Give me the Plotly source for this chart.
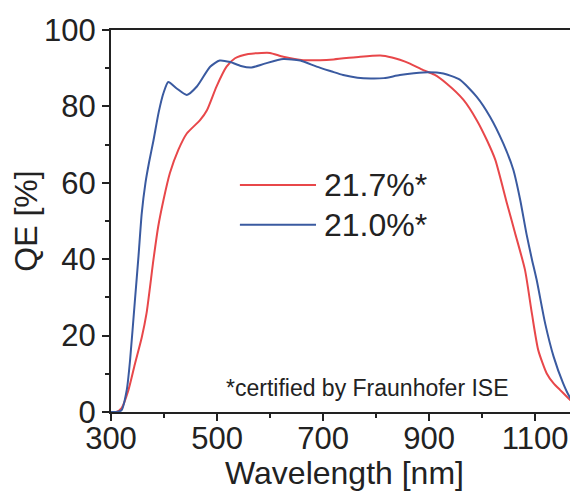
import plotly.graph_objects as go

# ---- data ----
wl_red = [300, 310, 320, 333, 345, 358, 367, 380, 389, 399, 411, 427, 443, 468, 481, 499,
          518, 534, 559, 584, 600, 625, 663, 720, 770, 808, 830, 845, 864, 889, 910, 933, 965, 990,
          1009, 1025, 1047, 1062, 1081, 1094, 1106, 1122, 1135, 1147, 1160, 1172, 1180]
qe_red = [0, 0, 1, 5.8, 12.5, 19.5, 25.8, 39.8, 48.5, 55.5, 62.5, 68.6, 72.9, 76.4, 79, 85.2,
          90.4, 92.6, 93.7, 94, 94, 93, 92.1, 92.3, 93, 93.3, 92.8, 92.2, 91.2, 89.5, 88.3, 86, 81.7, 76.4,
          71.2, 66, 54.6, 47, 37.2, 25.8, 16.2, 10.1, 7.5, 5.8, 4, 2.3, 1.2]

wl_blue = [300, 310, 320, 330, 336, 345, 352, 358, 365, 372, 380, 390, 399, 408, 424, 443, 462, 487,
           505, 525, 545, 565, 590, 625, 657, 688, 715, 738, 765, 790, 815, 845, 889, 927, 958,
           990, 1015, 1040, 1059, 1072, 1084, 1094, 1103, 1119, 1135, 1153, 1165, 1178]
qe_blue = [0, 0, 0.5, 6, 13.6, 29, 41, 52, 60, 65.5, 71, 78.5, 83.5, 86.4, 84.7, 83, 85.2, 90.4,
           92, 91.6, 90.6, 90.2, 91.2, 92.4, 92, 90.4, 89.2, 88.2, 87.5, 87.3, 87.4, 88.2, 88.9, 88.6, 87,
           82.5, 77.3, 70.3, 63.4, 55.5, 46.5, 40, 34.6, 23.2, 14.5, 7.5, 4, 1.6]

series_labels = ["21.7%*", "21.0%*"]
series_colors = ["#e8474a", "#3a5aa0"]
x_tickvals = [300, 500, 700, 900, 1100]
y_tickvals = [0, 20, 40, 60, 80, 100]
note_text = "*certified by Fraunhofer ISE"

FONT = "Liberation Sans, Arial, sans-serif"
INK = "#222"

fig = go.Figure()
for wl, qe, name, col in [(wl_red, qe_red, series_labels[0], series_colors[0]),
                          (wl_blue, qe_blue, series_labels[1], series_colors[1])]:
    fig.add_trace(go.Scatter(x=wl, y=qe, mode="lines", name=name,
                             line=dict(color=col, width=2, shape="spline", smoothing=0.6),
                             showlegend=False))

# manual legend (long line swatches like the reference)
legend_y = [0.594, 0.490]
for ly, col, lab in zip(legend_y, series_colors, series_labels):
    fig.add_shape(type="line", xref="paper", yref="paper", x0=0.276, x1=0.439, y0=ly, y1=ly,
                  line=dict(color=col, width=2))
    fig.add_annotation(xref="paper", yref="paper", x=0.452, y=ly, text=lab, showarrow=False,
                       xanchor="left", yanchor="middle", font=dict(family=FONT, size=32, color=INK))

fig.add_annotation(xref="paper", yref="paper", x=0.243, y=0.062, text=note_text, showarrow=False,
                   xanchor="left", yanchor="middle", font=dict(family=FONT, size=23, color=INK))

fig.update_layout(
    width=570, height=483,
    margin=dict(l=103, r=0, t=22, b=79),
    paper_bgcolor="white", plot_bgcolor="white",
    font=dict(family=FONT, size=31, color=INK),
    xaxis=dict(range=[300, 1181], tickvals=x_tickvals, ticktext=[str(v) for v in x_tickvals],
               showline=True, linecolor=INK, linewidth=2, mirror=True, automargin=False,
               ticks="outside", ticklen=7, tickwidth=2, tickcolor=INK,
               minor=dict(dtick=100, tick0=300, ticks="outside", ticklen=4, tickwidth=2, tickcolor=INK),
               showgrid=False, zeroline=False, ticklabelstandoff=-9,
               tickfont=dict(family=FONT, size=31, color=INK),
               title=dict(text="Wavelength [nm]", font=dict(family=FONT, size=32, color=INK), standoff=14)),
    yaxis=dict(range=[0, 100], tickvals=y_tickvals, ticktext=[str(v) for v in y_tickvals],
               showline=True, linecolor=INK, linewidth=2, mirror=False, automargin=False,
               ticks="outside", ticklen=7, tickwidth=2, tickcolor=INK,
               minor=dict(dtick=10, tick0=0, ticks="outside", ticklen=4, tickwidth=2, tickcolor=INK),
               showgrid=False, zeroline=False,
               tickfont=dict(family=FONT, size=31, color=INK),
               title=dict(text="QE [%]", font=dict(family=FONT, size=32, color=INK), standoff=2)),
)

fig.write_html("out.html")
